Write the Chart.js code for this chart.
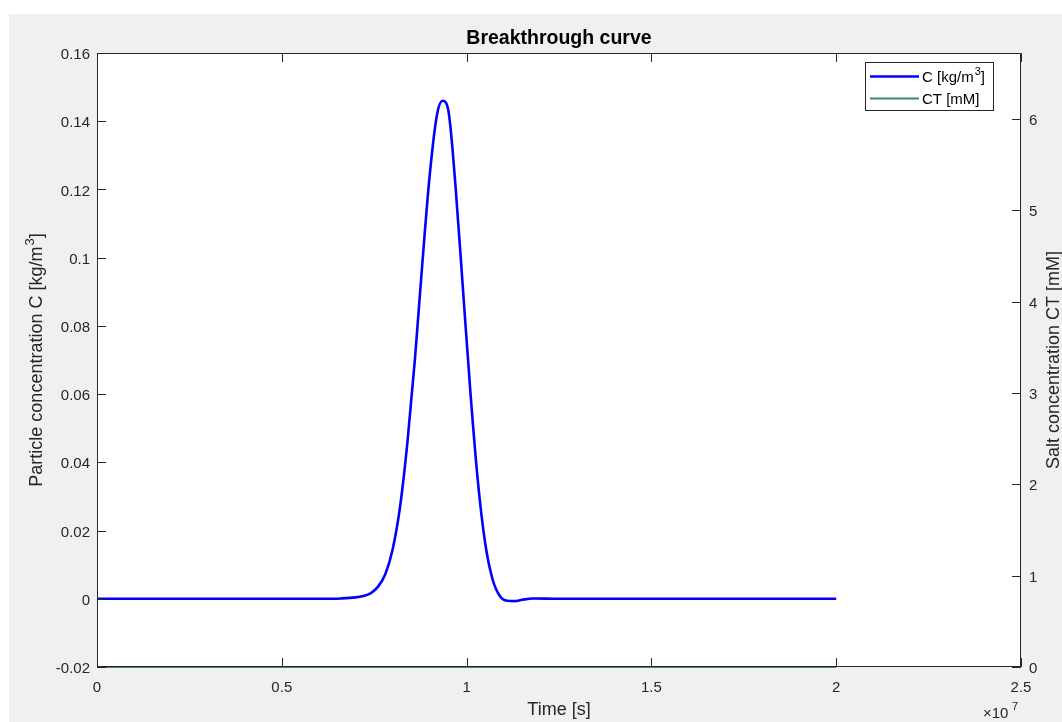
<!DOCTYPE html>
<html><head><meta charset="utf-8">
<script src="https://cdn.jsdelivr.net/npm/chart.js@4.4.1/dist/chart.umd.min.js"></script>
<style>html,body{margin:0;padding:0;background:#fff;overflow:hidden}#wrap{position:absolute;left:0;top:0;width:1062px;height:722px}</style>
</head><body><div id="wrap"><canvas id="c" width="1062" height="722"></canvas></div>
<script>
// ---- data ----
const timeS = [0, 0.2e7, 0.4e7, 0.6e7, 0.66e7, 0.70e7, 0.72e7, 0.74e7, 0.76e7, 0.78e7, 0.80e7, 0.82e7, 0.84e7, 0.86e7, 0.88e7, 0.90e7, 0.92e7, 0.935e7, 0.95e7, 0.97e7, 0.99e7, 1.01e7, 1.03e7, 1.05e7, 1.07e7, 1.09e7, 1.11e7, 1.13e7, 1.15e7, 1.18e7, 1.25e7, 1.5e7, 1.75e7, 2.0e7];
const particleC = [0, 0, 0, 0, 0.0001, 0.0004, 0.0008, 0.0016, 0.0035, 0.0072, 0.0145, 0.027, 0.046, 0.070, 0.098, 0.124, 0.142, 0.146, 0.1435, 0.121, 0.091, 0.061, 0.035, 0.0165, 0.0058, 0.0008, -0.0006, -0.0007, -0.0003, 0.0001, 0, 0, 0, 0];
const ctTime = [0, 2.0e7];
const saltCT = [0, 0];
const xTicks = [0, 0.5e7, 1.0e7, 1.5e7, 2.0e7, 2.5e7];
const xTickLabels = ['0', '0.5', '1', '1.5', '2', '2.5'];
const leftTicks = [-0.02, 0, 0.02, 0.04, 0.06, 0.08, 0.1, 0.12, 0.14, 0.16];
const leftTickLabels = ['-0.02', '0', '0.02', '0.04', '0.06', '0.08', '0.1', '0.12', '0.14', '0.16'];
const rightTicks = [0, 1, 2, 3, 4, 5, 6];
const rightTickLabels = ['0', '1', '2', '3', '4', '5', '6'];
// [base text, superscript, tail]
const seriesLabels = [['C [kg/m', '3', ']'], ['CT [mM]', '', '']];
const titleText = 'Breakthrough curve';
const xTitle = 'Time [s]';
const yLeftTitle = ['Particle concentration C [kg/m', '3', ']'];
const yRightTitle = 'Salt concentration CT [mM]';

const FONT = '"Liberation Sans", Arial, Helvetica, sans-serif';
const INK = '#262626';
const BLUE = '#0000ff';
const GREEN = '#3a8a6c';

function labelFor(list, labels, v) {
  let best = 0;
  for (let i = 1; i < list.length; i++) if (Math.abs(list[i] - v) < Math.abs(list[best] - v)) best = i;
  return labels[best];
}

// draws base + superscript + tail starting at x (left aligned, middle baseline)
function supText(ctx, parts, x, y, size) {
  ctx.font = size + 'px ' + FONT;
  ctx.textAlign = 'left';
  ctx.fillText(parts[0], x, y);
  let w = ctx.measureText(parts[0]).width;
  if (parts[1]) {
    ctx.font = Math.round(size * 0.7) + 'px ' + FONT;
    ctx.fillText(parts[1], x + w + 1, y - size * 0.38);
    w += ctx.measureText(parts[1]).width + 1;
    ctx.font = size + 'px ' + FONT;
  }
  if (parts[2]) { ctx.fillText(parts[2], x + w, y); w += ctx.measureText(parts[2]).width; }
  return w;
}
function supWidth(ctx, parts, size) {
  ctx.font = size + 'px ' + FONT;
  let w = ctx.measureText(parts[0]).width + (parts[2] ? ctx.measureText(parts[2]).width : 0);
  if (parts[1]) { ctx.font = Math.round(size * 0.7) + 'px ' + FONT; w += ctx.measureText(parts[1]).width + 1; }
  return w;
}

const decor = {
  id: 'decor',
  beforeDraw(chart) {
    const ctx = chart.ctx, a = chart.chartArea;
    ctx.save();
    ctx.fillStyle = '#ffffff';
    ctx.fillRect(0, 0, chart.width, chart.height);
    ctx.fillStyle = '#f0f0f0';
    ctx.fillRect(9, 14, chart.width - 9, chart.height - 14);
    ctx.fillStyle = '#ffffff';
    ctx.fillRect(a.left, a.top, a.right - a.left, a.bottom - a.top);
    ctx.restore();
  },
  afterDraw(chart) {
    const ctx = chart.ctx, a = chart.chartArea;
    const sx = chart.scales.x, sl = chart.scales.y, sr = chart.scales.y2;
    const TL = 9;
    ctx.save();
    ctx.strokeStyle = INK;
    ctx.lineWidth = 1;
    // box
    ctx.beginPath();
    ctx.rect(a.left + 0.5, a.top + 0.5, a.right - a.left - 1, a.bottom - a.top - 1);
    ctx.stroke();
    // inward ticks
    ctx.beginPath();
    xTicks.forEach(v => {
      const px = Math.round(sx.getPixelForValue(v)) + 0.5;
      ctx.moveTo(px, a.bottom); ctx.lineTo(px, a.bottom - TL);
      ctx.moveTo(px, a.top); ctx.lineTo(px, a.top + TL);
    });
    leftTicks.forEach(v => {
      const py = Math.round(sl.getPixelForValue(v)) + 0.5;
      ctx.moveTo(a.left, py); ctx.lineTo(a.left + TL, py);
    });
    rightTicks.forEach(v => {
      const py = Math.round(sr.getPixelForValue(v)) + 0.5;
      ctx.moveTo(a.right, py); ctx.lineTo(a.right - TL, py);
    });
    ctx.stroke();

    // title
    ctx.fillStyle = '#000000';
    ctx.font = 'bold 19.5px ' + FONT;
    ctx.textAlign = 'center';
    ctx.textBaseline = 'middle';
    ctx.fillText(titleText, (a.left + a.right) / 2, 39);

    // axis titles
    ctx.fillStyle = INK;
    ctx.font = '18px ' + FONT;
    ctx.fillText(xTitle, (a.left + a.right) / 2, 710);
    ctx.save();
    ctx.translate(37, (a.top + a.bottom) / 2);
    ctx.rotate(-Math.PI / 2);
    const lw0 = supWidth(ctx, yLeftTitle, 18);
    supText(ctx, yLeftTitle, -lw0 / 2, 0, 18);
    ctx.restore();
    ctx.save();
    ctx.translate(1054, (a.top + a.bottom) / 2);
    ctx.rotate(-Math.PI / 2);
    ctx.font = '18px ' + FONT;
    ctx.textAlign = 'center';
    ctx.fillText(yRightTitle, 0, 0);
    ctx.restore();

    // exponent
    ctx.font = '15px ' + FONT;
    ctx.textAlign = 'left';
    ctx.textBaseline = 'alphabetic';
    ctx.fillText('×10', 983, 718);
    ctx.font = '11px ' + FONT;
    ctx.fillText('7', 1012, 710);

    // legend
    const lx = 865.5, ly = 62.5, lw = 128, lh = 48;
    ctx.fillStyle = '#ffffff';
    ctx.fillRect(lx, ly, lw, lh);
    ctx.strokeStyle = INK;
    ctx.lineWidth = 1;
    ctx.strokeRect(lx, ly, lw, lh);
    const ds = chart.data.datasets;
    const rows = [76.5, 98.5];
    ds.forEach((d, i) => {
      ctx.strokeStyle = d.borderColor;
      ctx.lineWidth = d.borderWidth;
      ctx.beginPath();
      ctx.moveTo(870, rows[i]); ctx.lineTo(919, rows[i]);
      ctx.stroke();
      ctx.fillStyle = '#000000';
      ctx.textBaseline = 'middle';
      supText(ctx, seriesLabels[i], 922, rows[i] + 1, 15);
    });
    ctx.restore();
  }
};

new Chart(document.getElementById('c'), {
  type: 'line',
  data: {
    datasets: [
      {
        label: seriesLabels[0].join(''),
        data: timeS.map((t, i) => ({ x: t, y: particleC[i] })),
        yAxisID: 'y',
        borderColor: BLUE,
        borderWidth: 2.6,
        pointRadius: 0,
        cubicInterpolationMode: 'monotone',
        fill: false
      },
      {
        label: seriesLabels[1].join(''),
        data: ctTime.map((t, i) => ({ x: t, y: saltCT[i] })),
        yAxisID: 'y2',
        borderColor: GREEN,
        borderWidth: 2,
        pointRadius: 0,
        clip: false,
        fill: false
      }
    ]
  },
  options: {
    responsive: false,
    animation: false,
    devicePixelRatio: 1,
    layout: { padding: { top: 53, left: 0, right: 0, bottom: 0 } },
    plugins: { legend: { display: false }, title: { display: false }, tooltip: { enabled: false } },
    scales: {
      x: {
        type: 'linear', min: 0, max: 2.5e7,
        afterBuildTicks: s => { s.ticks = xTicks.map(v => ({ value: v })); },
        afterFit: s => { s.height = 55; },
        grid: { display: false }, border: { display: false },
        ticks: { color: INK, font: { family: FONT, size: 15 }, padding: 4, maxRotation: 0, autoSkip: false,
          callback: v => labelFor(xTicks, xTickLabels, v) }
      },
      y: {
        type: 'linear', position: 'left', min: -0.02, max: 0.16,
        afterBuildTicks: s => { s.ticks = leftTicks.map(v => ({ value: v })); },
        afterFit: s => { s.width = 97; },
        grid: { display: false }, border: { display: false },
        ticks: { color: INK, font: { family: FONT, size: 15 }, padding: -1, labelOffset: 2, autoSkip: false,
          callback: v => labelFor(leftTicks, leftTickLabels, v) }
      },
      y2: {
        type: 'linear', position: 'right', min: 0, max: 6.72,
        afterBuildTicks: s => { s.ticks = rightTicks.map(v => ({ value: v })); },
        afterFit: s => { s.width = 41; },
        grid: { display: false }, border: { display: false },
        ticks: { color: INK, font: { family: FONT, size: 15 }, padding: 0, labelOffset: 2, autoSkip: false,
          callback: v => labelFor(rightTicks, rightTickLabels, v) }
      }
    }
  },
  plugins: [decor]
});
</script>
</body></html>
